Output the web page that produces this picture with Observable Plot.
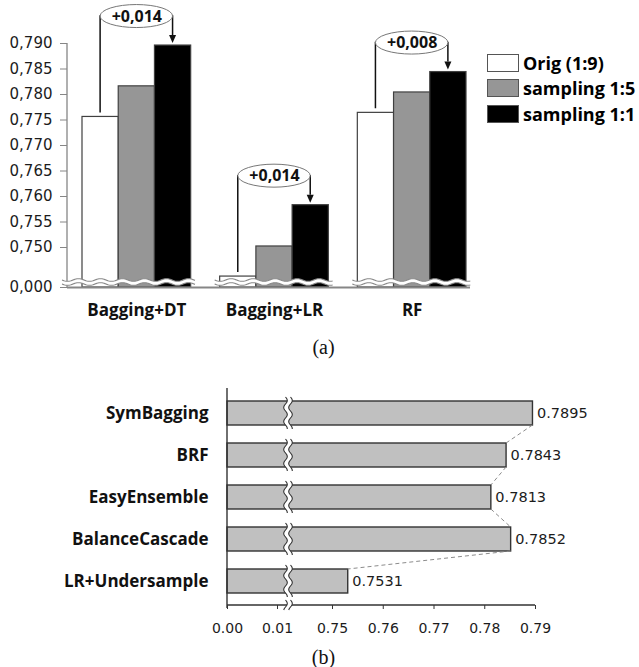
<!DOCTYPE html>
<html><head><meta charset="utf-8">
<script src="https://cdn.jsdelivr.net/npm/d3@7"></script>
<script src="https://cdn.jsdelivr.net/npm/@observablehq/plot@0.6"></script>
<style>
body{margin:0;background:#fff;}
#wrap{position:relative;width:639px;height:667px;overflow:hidden;background:#fff;}
#wrap svg{display:block;}
.cap{font-family:"Liberation Serif","Times New Roman",serif;font-size:20px;color:#111;text-align:center;width:639px;box-sizing:border-box;padding-left:8px;}
#legend{position:absolute;left:487px;top:50px;font-family:"Open Sans",sans-serif;font-weight:700;font-size:18px;color:#000;}
.row{display:flex;align-items:center;height:25.5px;white-space:nowrap;}
.sw{width:32px;height:18px;box-sizing:border-box;border:1px solid #555;margin-right:4px;flex:none;}
</style></head>
<body><div id="wrap"></div>
<script>
// ---------- data (a) ----------
const methodsA = ["Bagging+DT", "Bagging+LR", "RF"];
const seriesA = ["Orig (1:9)", "sampling 1:5", "sampling 1:1"];
const origA = [0.7756, 0.7443, 0.7764];
const samp15A = [0.7816, 0.7502, 0.7804];
const samp11A = [0.7896, 0.7583, 0.7844];
const colorsA = ["#ffffff", "#969696", "#000000"];
const ticksA = [0, 0.750, 0.755, 0.760, 0.765, 0.770, 0.775, 0.780, 0.785, 0.790];

// ---------- data (b) ----------
const methodsB = ["SymBagging", "BRF", "EasyEnsemble", "BalanceCascade", "LR+Undersample"];
const valuesB = [0.7895, 0.7843, 0.7813, 0.7852, 0.7531];
const ticksB = [0, 0.01, 0.75, 0.76, 0.77, 0.78, 0.79];

// ---------- helpers ----------
const GAP = 0.8; // gap between groups, in bar widths
const seriesArrays = [origA, samp15A, samp11A];
const rowsA = methodsA.flatMap((m, gi) => seriesArrays.map((arr, si) => ({
  method: m, series: seriesA[si], value: arr[gi], slot: gi * (3 + GAP) + si
})));
const rowsB = methodsB.map((m, i) => ({method: m, value: valuesB[i]}));
const commaFmt = v => d3.format(".3f")(v).replace(".", ",");
const gainFmt = v => d3.format("+.3f")(v).replace(".", ",");

function waveH(x0, x1, y, amp, lam) {
  const pts = [];
  for (let x = x0; x <= x1 + 0.001; x += 1) pts.push([x, y + amp * Math.sin(2 * Math.PI * (x - x0) / lam)]);
  return pts;
}
function waveV(y0, y1, x, amp, lam) {
  const pts = [];
  for (let y = y0; y <= y1 + 0.001; y += 1) pts.push([x + amp * Math.sin(2 * Math.PI * (y - y0) / lam), y]);
  return pts;
}
function strip(g, a, b, stroke) {
  const line = d3.line();
  g.append("path").attr("d", line(a.concat(b.slice().reverse())) + "Z").attr("fill", "#fff");
  g.append("path").attr("d", line(a)).attr("fill", "none").attr("stroke", stroke).attr("stroke-width", 1.1);
  g.append("path").attr("d", line(b)).attr("fill", "none").attr("stroke", stroke).attr("stroke-width", 1.1);
}

// ---------- chart (a) render marks ----------
const axisLineA = (index, {y}, values, {marginLeft}) => {
  const g = d3.create("svg:g");
  g.append("line").attr("x1", marginLeft).attr("x2", marginLeft)
    .attr("y1", y(d3.max(ticksA))).attr("y2", y(0))
    .attr("stroke", "#868686").attr("stroke-width", 1.3);
  return g.node();
};
const breaksA = (index, {x, y}, values, {marginLeft}) => {
  const g = d3.create("svg:g");
  const yb = y(0);
  methodsA.forEach((m, gi) => {
    const s0 = gi * (3 + GAP);
    const x0 = gi === 0 ? marginLeft - 5 : x(s0) - 5;
    const x1 = x(s0 + 3) + 5;
    strip(g, waveH(x0, x1, yb - 7, 1.3, 22), waveH(x0, x1, yb - 3, 1.3, 22), "#8a8a8a");
  });
  return g.node();
};
const annotA = (index, {x, y}) => {
  const g = d3.create("svg:g");
  methodsA.forEach((m, gi) => {
    const s0 = gi * (3 + GAP);
    const xo = x(s0 + 0.5), xs = x(s0 + 2.5);
    const yo = y(origA[gi]) - 4, ys = y(samp11A[gi]);
    const cy = ys - 29;
    g.append("path").attr("d", `M${xo},${yo}V${cy}H${xs}V${ys - 10}`)
      .attr("fill", "none").attr("stroke", "#111").attr("stroke-width", 1.5);
    g.append("path").attr("d", `M${xs - 3.5},${ys - 10}L${xs + 3.5},${ys - 10}L${xs},${ys - 2}Z`).attr("fill", "#111");
    g.append("ellipse").attr("cx", (xo + xs) / 2).attr("cy", cy).attr("rx", (xs - xo) / 2).attr("ry", 11.5)
      .attr("fill", "#fff").attr("stroke", "#777").attr("stroke-width", 1);
  });
  return g.node();
};

const plotA = Plot.plot({
  width: 639, height: 333,
  marginLeft: 67, marginRight: 169, marginTop: 43, marginBottom: 46,
  style: {background: "#fff", fontFamily: "DejaVu Sans", overflow: "visible"},
  x: {type: "linear", domain: [0, 3 * 3 + 2 * GAP], insetLeft: 15, insetRight: 4, axis: null},
  y: {type: "linear", domain: [0, 0.743, 0.79], range: [287, 282.7, 43], axis: null},
  color: {domain: seriesA, range: colorsA},
  marks: [
    Plot.rectY(rowsA, {x1: "slot", x2: d => d.slot + 1, y1: () => 0, y2: "value", fill: "series", stroke: "#404040", strokeWidth: 1.2}),
    axisLineA,
    Plot.ruleY([0], {stroke: "#868686", strokeWidth: 2}),
    Plot.axisY({ticks: ticksA, tickFormat: commaFmt, tickSize: 7, tickPadding: 8, stroke: "#868686", fill: "#1c1c1c", fontSize: 15, fontFamily: "DejaVu Sans", label: null}),
    breaksA,
    annotA,
    Plot.text(methodsA, {x: (d, i) => i * (3 + GAP) + 1.5, y: (d, i) => samp11A[i], dy: -29,
      text: (d, i) => gainFmt(samp11A[i] - origA[i]), fontFamily: "Open Sans", fontWeight: 700, fontSize: 16, fill: "#111"}),
    Plot.text(methodsA, {x: (d, i) => i * (3 + GAP) + 1.5, frameAnchor: "bottom", dy: 28, text: d => d,
      fontFamily: "Open Sans", fontWeight: 700, fontSize: 17, fill: "#111"})
  ]
});

// ---------- chart (b) render marks ----------
const connectorsB = (index, {x, y}) => {
  const g = d3.create("svg:g");
  const bw = y.bandwidth();
  for (let i = 0; i < methodsB.length - 1; i++) {
    g.append("line")
      .attr("x1", x(valuesB[i])).attr("y1", y(methodsB[i]) + bw)
      .attr("x2", x(valuesB[i + 1])).attr("y2", y(methodsB[i + 1]))
      .attr("stroke", "#8c8c8c").attr("stroke-width", 1).attr("stroke-dasharray", "4,3");
  }
  return g.node();
};
const axisLinesB = (index, {x}, values, {height, marginTop, marginBottom}) => {
  const g = d3.create("svg:g");
  const yb = height - marginBottom;
  g.append("line").attr("x1", x(0)).attr("x2", x(0)).attr("y1", marginTop).attr("y2", yb + 3)
    .attr("stroke", "#333").attr("stroke-width", 1.4);
  g.append("line").attr("x1", x(0)).attr("x2", x(d3.max(ticksB))).attr("y1", yb).attr("y2", yb)
    .attr("stroke", "#333").attr("stroke-width", 1.4);
  return g.node();
};
const breaksB = (index, {x, y}, values, {height, marginBottom}) => {
  const g = d3.create("svg:g");
  const xb = x(0.01) + 11;
  const bw = y.bandwidth();
  const spans = methodsB.map(m => [y(m) - 4, y(m) + bw + 4]);
  spans.push([height - marginBottom - 5, height - marginBottom + 5]);
  spans.forEach(([y0, y1]) => strip(g, waveV(y0, y1, xb - 2.5, 1.8, 14), waveV(y0, y1, xb + 2.5, 1.8, 14), "#333"));
  return g.node();
};

const plotB = Plot.plot({
  width: 639, height: 279,
  marginLeft: 227, marginRight: 104, marginTop: 27, marginBottom: 35,
  style: {background: "#fff", fontFamily: "DejaVu Sans", overflow: "visible"},
  x: {type: "linear", domain: [0, 0.01, 0.75, 0.79], range: [227, 277, 332, 535], axis: null},
  y: {type: "band", domain: methodsB, paddingInner: 0.44, paddingOuter: 0.26, axis: null},
  marks: [
    Plot.barX(rowsB, {y: "method", x1: () => 0, x2: "value", fill: "#c0c0c0", stroke: "#333", strokeWidth: 1.4}),
    connectorsB,
    axisLinesB,
    Plot.axisX({ticks: ticksB, tickFormat: d3.format(".2f"), tickSize: 4, tickPadding: 14, stroke: "#333", fill: "#1c1c1c", fontSize: 14, fontFamily: "DejaVu Sans", label: null}),
    Plot.axisY({tickSize: 0, tickPadding: 19, fill: "#111", fontSize: 17, fontFamily: "Open Sans", fontWeight: 700, label: null}),
    breaksB,
    Plot.text(rowsB, {y: "method", x: "value", text: d => d3.format(".4f")(d.value), dx: 4, textAnchor: "start",
      fontSize: 14.5, fontFamily: "DejaVu Sans", fill: "#1c1c1c"})
  ]
});

// ---------- assemble ----------
const wrap = document.getElementById("wrap");
wrap.appendChild(plotA);
const capA = document.createElement("div");
capA.className = "cap"; capA.style.height = "28px"; capA.style.lineHeight = "28px"; capA.textContent = "(a)";
wrap.appendChild(capA);
wrap.appendChild(plotB);
const capB = document.createElement("div");
capB.className = "cap"; capB.style.height = "27px"; capB.style.lineHeight = "28px"; capB.style.paddingTop = "3px"; capB.textContent = "(b)";
wrap.appendChild(capB);

const legend = document.createElement("div");
legend.id = "legend";
seriesA.forEach((s, i) => {
  const row = document.createElement("div"); row.className = "row";
  const sw = document.createElement("div"); sw.className = "sw"; sw.style.background = colorsA[i];
  const t = document.createElement("span"); t.textContent = s;
  row.appendChild(sw); row.appendChild(t); legend.appendChild(row);
});
wrap.appendChild(legend);
</script>
</body></html>
